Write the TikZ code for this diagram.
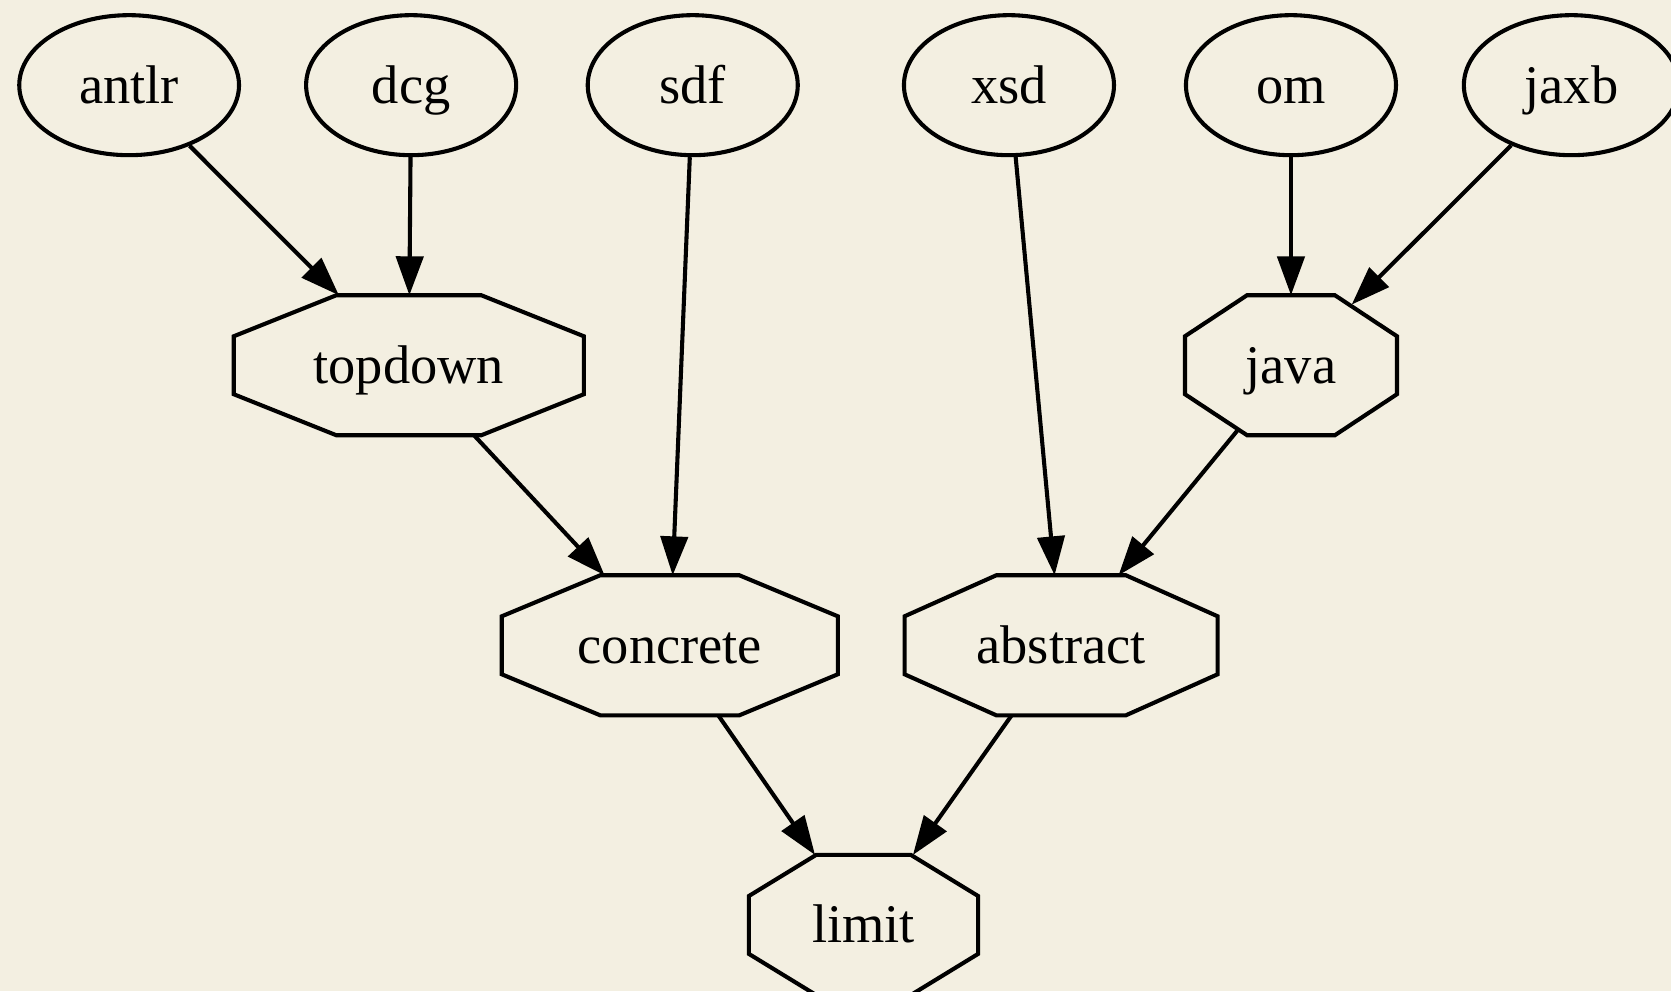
\documentclass[tikz,border=0pt]{standalone}
\usepackage{fontspec}
\setmainfont{Liberation Serif}
\usepackage{tikz}
\usetikzlibrary{calc, arrows.meta, shapes.geometric}
\definecolor{paper}{RGB}{243, 239, 225}

\begin{document}
\begin{tikzpicture}[
    x=1pt, y=1pt,
    font=\fontsize{14}{16.8}\selectfont,
    src/.style={ellipse, draw, line width=1.05pt, minimum width=54pt, minimum height=36pt,
                inner sep=0pt, text height=12.2pt, text depth=3pt},
    oct/.style={rectangle, minimum height=36pt, inner sep=0pt, outer sep=0pt,
                text height=12.2pt, text depth=3pt},
    octline/.style={line width=1.05pt, line join=miter},
    dep/.style={-{Triangle[length=10pt, width=7pt]}, line width=1.05pt},
  ]
    % Background
    \path[use as bounding box, fill=paper] (0,0) rectangle (429.6,254.8);

    % Sources
    \node[src, minimum width=56.5pt] (antlr) at (33.2,232.9) {antlr};
    \node[src] (dcg) at (105.7,232.9) {dcg};
    \node[src] (sdf) at (178.1,232.9) {sdf};
    \node[src] (xsd) at (259.4,232.9) {xsd};
    \node[src] (om)  at (331.9,232.9) {om};
    \node[src, minimum width=55.3pt] (jaxb) at (404,232.9) {jaxb};

    % Octagons
    \node[oct, minimum width=90pt]   (topdown)  at (105.1,160.9) {topdown};
    \node[oct, minimum width=54.5pt] (java)     at (331.9,160.9) {java};
    \node[oct, minimum width=86.4pt] (concrete) at (172.2,88.9)  {concrete};
    \node[oct, minimum width=80.5pt] (abstract) at (272.8,88.9)  {abstract};
    \node[oct, minimum width=58.9pt] (limit)    at (222.0,17.0)  {limit};

    \foreach \n in {topdown,java,concrete,abstract,limit} {
      \draw[octline] ($(\n.north)!0.414!(\n.north east)$) -- ($(\n.east)!0.414!(\n.north east)$)
        -- ($(\n.east)!0.414!(\n.south east)$) -- ($(\n.south)!0.414!(\n.south east)$)
        -- ($(\n.south)!0.414!(\n.south west)$) -- ($(\n.west)!0.414!(\n.south west)$)
        -- ($(\n.west)!0.414!(\n.north west)$) -- ($(\n.north)!0.414!(\n.north west)$) -- cycle;
    }

    % Edges
    \draw[dep] (antlr) -- (topdown);
    \draw[dep] (dcg) -- (topdown);
    \draw[dep] (sdf) -- (concrete);
    \draw[dep] (topdown) -- (concrete);
    \draw[dep] (xsd) -- (abstract);
    \draw[dep] (om) -- (java);
    \draw[dep, shorten >=-3.4pt] (jaxb) -- (java);
    \draw[dep, shorten <=-1.5pt] (java) -- (abstract);
    \draw[dep] (concrete) -- (limit);
    \draw[dep] (abstract) -- (limit);
  \end{tikzpicture}
\end{document}
